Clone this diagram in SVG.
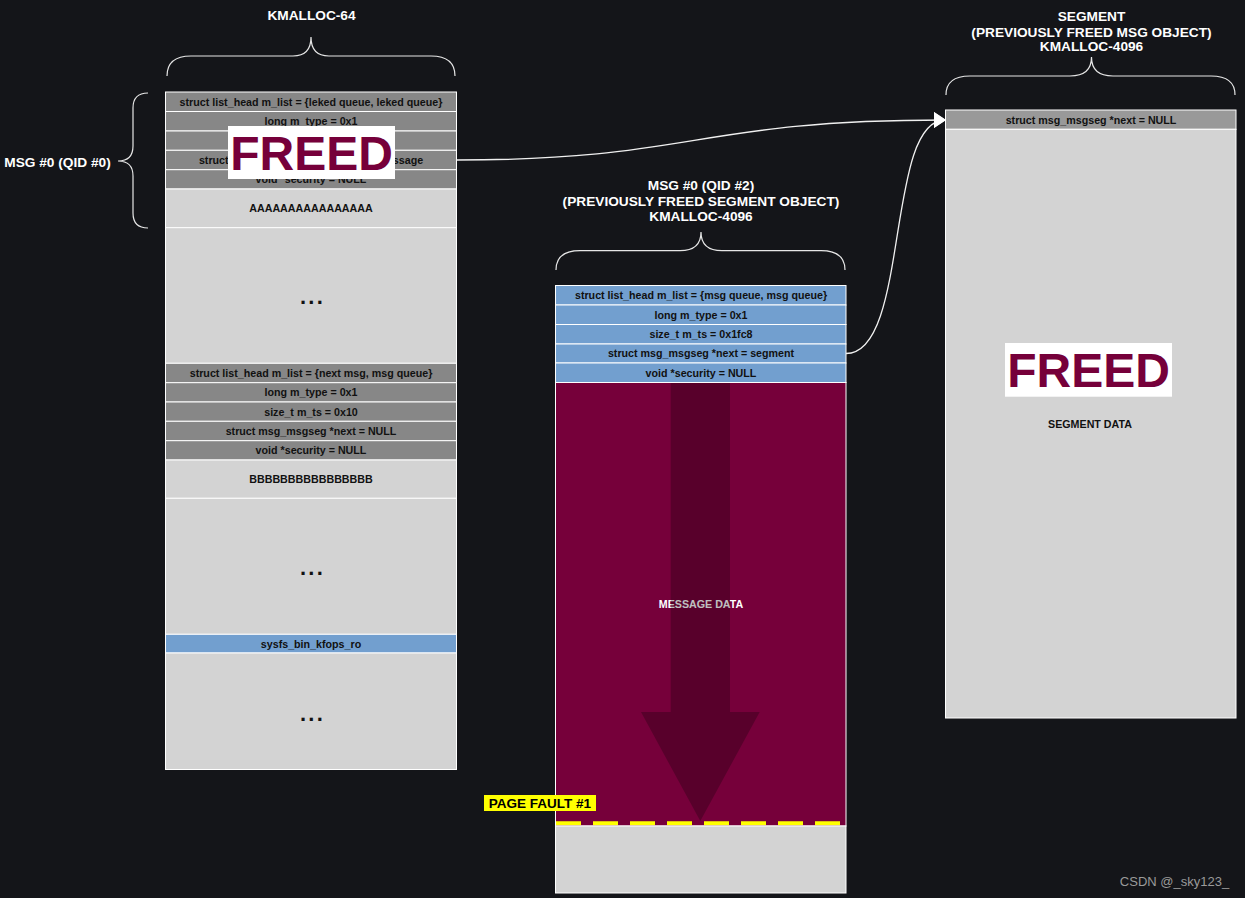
<svg xmlns="http://www.w3.org/2000/svg" width="1245" height="898" viewBox="0 0 1245 898">
<defs>
<style>
.bg{fill:#141519}
.dark{fill:#878787;stroke:#ffffff;stroke-width:1}
.hdr{fill:#999999;stroke:#ffffff;stroke-width:1}
.light{fill:#d3d3d3;stroke:#ffffff;stroke-width:1}
.blue{fill:#729fcf;stroke:#ffffff;stroke-width:1}
.crim{fill:#76003a;stroke:#ffffff;stroke-width:1}
.t{font-family:"Liberation Sans",Arial,sans-serif;font-weight:bold;font-size:10.7px;fill:#111111;text-anchor:middle}
.dots{font-family:"Liberation Sans",Arial,sans-serif;font-weight:bold;font-size:22px;letter-spacing:2.2px;fill:#111111;text-anchor:middle}
.title{font-family:"Liberation Sans",Arial,sans-serif;font-weight:bold;font-size:13.7px;fill:#ffffff;text-anchor:middle}
.freedbox{fill:#ffffff}
.freed{font-family:"Liberation Sans",Arial,sans-serif;font-weight:bold;font-size:48px;fill:#76003a;text-anchor:middle}
.brace{fill:none;stroke:#e6e6e6;stroke-width:1.2}
.conn{fill:none;stroke:#f0f0f0;stroke-width:1.3}
</style>
<marker id="arr" viewBox="0 0 12 16" refX="11" refY="8" markerWidth="12" markerHeight="16" markerUnits="userSpaceOnUse" orient="auto">
<path d="M0 0 L12 8 L0 16 Z" fill="#ffffff"/>
</marker>
</defs>
<rect class="bg" x="0" y="0" width="1245" height="898"/>

<g id="kmalloc64">
<rect class="dark" x="165.5" y="92" width="291" height="19.5"/>
<text class="t" x="311" y="105.6">struct list_head m_list = {leked queue, leked queue}</text>
<rect class="dark" x="165.5" y="111.5" width="291" height="19.5"/>
<text class="t" x="311" y="125">long m_type = 0x1</text>
<rect class="dark" x="165.5" y="131" width="291" height="19.3"/>
<rect class="dark" x="165.5" y="150.3" width="291" height="19.4"/>
<text class="t" x="311" y="163.8">struct msg_msgseg *next = leaked message</text>
<rect class="dark" x="165.5" y="169.7" width="291" height="19.3"/>
<text class="t" x="311" y="183.2">void *security = NULL</text>
<rect class="light" x="165.5" y="189" width="291" height="38.7"/>
<text class="t" x="311" y="211.8">AAAAAAAAAAAAAAAA</text>
<rect class="light" x="165.5" y="227.7" width="291" height="135.6"/>
<text class="dots" x="312.5" y="304">...</text>
<rect class="dark" x="165.5" y="363.3" width="291" height="19.4"/>
<text class="t" x="311" y="376.8">struct list_head m_list = {next msg, msg queue}</text>
<rect class="dark" x="165.5" y="382.7" width="291" height="19.3"/>
<text class="t" x="311" y="396.1">long m_type = 0x1</text>
<rect class="dark" x="165.5" y="402" width="291" height="19.3"/>
<text class="t" x="311" y="415.5">size_t m_ts = 0x10</text>
<rect class="dark" x="165.5" y="421.3" width="291" height="19.4"/>
<text class="t" x="311" y="434.8">struct msg_msgseg *next = NULL</text>
<rect class="dark" x="165.5" y="440.7" width="291" height="19.3"/>
<text class="t" x="311" y="454.1">void *security = NULL</text>
<rect class="light" x="165.5" y="460" width="291" height="38.3"/>
<text class="t" x="311" y="483">BBBBBBBBBBBBBBBB</text>
<rect class="light" x="165.5" y="498.3" width="291" height="136"/>
<text class="dots" x="312.5" y="575">...</text>
<rect class="blue" x="165.5" y="634.3" width="291" height="18.7"/>
<text class="t" x="311" y="647.5">sysfs_bin_kfops_ro</text>
<rect class="light" x="165.5" y="653" width="291" height="116.5"/>
<text class="dots" x="312.5" y="720.5">...</text>
<rect class="freedbox" x="228" y="126" width="167" height="53"/>
<text class="freed" x="311.5" y="170.3">FREED</text>
</g>

<g id="label-kmalloc64">
<path class="brace" d="M167 76 Q167 56 191 56 L293 56 Q311 56 311 37 Q311 56 329 56 L431 56 Q455 56 455 76"/>
<text class="title" x="311.5" y="19.9">KMALLOC-64</text>
</g>

<g id="label-msg0">
<path class="brace" d="M148 93 Q133 93 133 108 L133 146 Q133 161 118 161 Q133 161 133 176 L133 213 Q133 228 148 228"/>
<text class="title" x="57.5" y="166.9">MSG #0 (QID #0)</text>
</g>

<g id="msg2">
<rect class="blue" x="555.5" y="285.5" width="290.5" height="19.5"/>
<text class="t" x="701" y="299">struct list_head m_list = {msg queue, msg queue}</text>
<rect class="blue" x="555.5" y="305" width="290.5" height="19.5"/>
<text class="t" x="701" y="318.5">long m_type = 0x1</text>
<rect class="blue" x="555.5" y="324.5" width="290.5" height="19.5"/>
<text class="t" x="701" y="338">size_t m_ts = 0x1fc8</text>
<rect class="blue" x="555.5" y="344" width="290.5" height="19"/>
<text class="t" x="701" y="357.3">struct msg_msgseg *next = segment</text>
<rect class="blue" x="555.5" y="363" width="290.5" height="19.5"/>
<text class="t" x="701" y="376.5">void *security = NULL</text>
<rect class="crim" x="555.5" y="382.5" width="290.5" height="443.5"/>
<text class="t" x="701" y="608" style="fill:#ffffff">MESSAGE DATA</text>
<path d="M670.7 383 L730 383 L730 712 L759.7 712 L700.3 821 L641 712 L670.7 712 Z" fill="#000000" fill-opacity="0.25"/>
<line x1="556" y1="823.3" x2="845" y2="823.3" stroke="#ffff00" stroke-width="4" stroke-dasharray="25 12"/>
<rect class="light" x="555.5" y="826" width="290.5" height="67"/>
</g>

<g id="label-msg2">
<path class="brace" d="M556 270 Q556 250.7 580 250.7 L680 250.7 Q701 250.7 701 232 Q701 250.7 722 250.7 L821 250.7 Q845 250.7 845 270"/>
<text class="title" x="701" y="189.9">MSG #0 (QID #2)</text>
<text class="title" x="701" y="205.9">(PREVIOUSLY FREED SEGMENT OBJECT)</text>
<text class="title" x="701" y="220.9">KMALLOC-4096</text>
</g>

<g id="page-fault">
<rect x="484" y="795" width="112" height="16" fill="#ffff00"/>
<text class="t" x="540" y="807.8" style="font-size:13.5px;fill:#000000">PAGE FAULT #1</text>
</g>

<g id="segment">
<rect class="hdr" x="945.5" y="110" width="290.5" height="19.3"/>
<text class="t" x="1091" y="123.5">struct msg_msgseg *next = NULL</text>
<rect class="light" x="945.5" y="129.3" width="290.5" height="588.7"/>
<text class="t" x="1090" y="427.8">SEGMENT DATA</text>
<rect class="freedbox" x="1005" y="343" width="167" height="53.7"/>
<text class="freed" x="1088.5" y="386.6">FREED</text>
</g>

<g id="label-segment">
<path class="brace" d="M946 95 Q946 76 970 76 L1070 76 Q1091.5 76 1091.5 57 Q1091.5 76 1113 76 L1211 76 Q1235 76 1235 95"/>
<text class="title" x="1091.5" y="20.6">SEGMENT</text>
<text class="title" x="1091.5" y="36.6">(PREVIOUSLY FREED MSG OBJECT)</text>
<text class="title" x="1091.5" y="50.9">KMALLOC-4096</text>
</g>

<g id="connectors">
<path class="conn" d="M456.5 160 C695 160 695 120 945 120" marker-end="url(#arr)"/>
<path class="conn" d="M846 353.5 C910 353.5 885 120 945 120" marker-end="url(#arr)"/>
</g>

<text x="1174.5" y="885.5" font-family="'Liberation Sans',Arial,sans-serif" font-size="13px" fill="#9a9a9a" text-anchor="middle">CSDN @_sky123_</text>
</svg>
